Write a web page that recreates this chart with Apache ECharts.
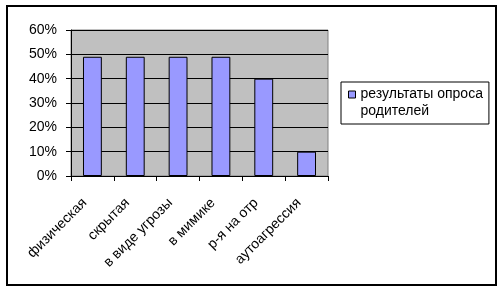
<!DOCTYPE html>
<html><head><meta charset="utf-8">
<script src="https://cdn.jsdelivr.net/npm/echarts@6/dist/echarts.min.js"></script>
<style>html,body{margin:0;padding:0;background:#fff}#c{width:504px;height:292px}</style>
</head><body><div id="c"></div>
<script>
const categories = ['физическая', 'скрытая', 'в виде угрозы', 'в мимике', 'р-я на отр', 'аутоагрессия'];
const values = [0.49, 0.49, 0.49, 0.49, 0.40, 0.10];
const seriesName = 'результаты опроса родителей';
const legendLines = ['результаты опроса', 'родителей'];
const yTicks = { min: 0, max: 0.6, interval: 0.1 };

const chart = echarts.init(document.getElementById('c'), null, { renderer: 'canvas' });
const font = 'Liberation Sans, Arial, sans-serif';
chart.setOption({
  animation: false,
  backgroundColor: '#fff',
  graphic: [{
    type: 'rect', shape: { x: 7, y: 6, width: 489, height: 279 },
    style: { fill: 'none', stroke: '#000', lineWidth: 2 }, z: 100
  }],
  grid: { left: 71, top: 30, width: 257, height: 146, show: true,
    backgroundColor: '#C0C0C0', borderColor: '#808080', borderWidth: 1 },
  legend: {
    show: true, left: 341, top: 82, orient: 'vertical',
    backgroundColor: '#fff', borderColor: '#000', borderWidth: 1,
    padding: [4, 6, 4, 7], itemWidth: 7, itemHeight: 24, itemGap: 4,
    icon: 'path://M0,0h7v7h-7z M0,24',
    formatter: function () { return legendLines.join('\n'); },
    textStyle: { fontFamily: font, fontSize: 14, color: '#000', lineHeight: 17 },
    itemStyle: { borderColor: '#000', borderWidth: 1 }
  },
  xAxis: {
    type: 'category', data: categories,
    axisLine: { lineStyle: { color: '#000', width: 1 } },
    axisTick: { show: true, length: 5, lineStyle: { color: '#000' } },
    axisLabel: { rotate: 45, interval: 0, margin: 17, padding: [0, 11, 0, 0],
      fontFamily: font, fontSize: 14, color: '#000' }
  },
  yAxis: {
    type: 'value', min: yTicks.min, max: yTicks.max, interval: yTicks.interval,
    axisLine: { show: true, lineStyle: { color: '#000', width: 1 } },
    axisTick: { show: true, length: 5, lineStyle: { color: '#000' } },
    splitLine: { show: true, lineStyle: { color: '#000', width: 1 } },
    axisLabel: { margin: 14, fontFamily: font, fontSize: 14, color: '#000',
      formatter: v => Math.round(v * 100) + '%' }
  },
  series: [{
    name: seriesName, type: 'bar', data: values, barWidth: '44%',
    itemStyle: { color: '#9999FF', borderColor: '#000', borderWidth: 1 }
  }]
});
</script></body></html>
